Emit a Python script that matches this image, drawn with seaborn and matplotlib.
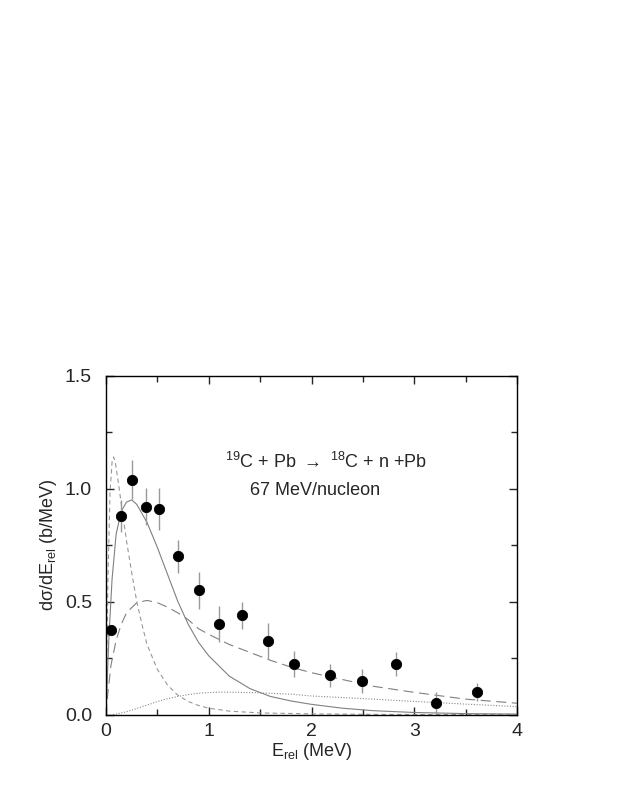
import numpy as np
import pandas as pd
import matplotlib
matplotlib.use('Agg')
import matplotlib.pyplot as plt
import seaborn as sns

# data points
e_data = [0.05, 0.15, 0.254, 0.39, 0.52, 0.70, 0.906, 1.105, 1.326, 1.58, 1.83, 2.18, 2.49, 2.82, 3.21, 3.61]
s_data = [0.375, 0.88, 1.04, 0.92, 0.91, 0.70, 0.55, 0.40, 0.44, 0.325, 0.224, 0.174, 0.149, 0.224, 0.05, 0.098]
s_err = [0.0, 0.07, 0.085, 0.081, 0.092, 0.072, 0.081, 0.079, 0.06, 0.078, 0.058, 0.05, 0.052, 0.052, 0.049, 0.04]

# full calculation (solid)
e_tot = [0, 0.03, 0.06, 0.1, 0.15, 0.2, 0.25, 0.3, 0.4, 0.5, 0.6, 0.7, 0.8, 0.9, 1.0, 1.2, 1.4, 1.6, 1.8, 2.0, 2.3, 2.6, 3.0, 3.5, 4.0]
s_tot = [0, 0.35, 0.60, 0.80, 0.90, 0.94, 0.95, 0.93, 0.85, 0.74, 0.62, 0.50, 0.40, 0.32, 0.26, 0.17, 0.115, 0.08, 0.06, 0.045, 0.028, 0.017, 0.009, 0.004, 0.002]

# short dashed
e_sd = [0, 0.02, 0.04, 0.06, 0.075, 0.09, 0.12, 0.15, 0.2, 0.25, 0.3, 0.35, 0.4, 0.5, 0.6, 0.7, 0.8, 0.9, 1.0, 1.2, 1.5, 2.0, 2.5, 3.0, 4.0]
s_sd = [0, 0.6, 0.98, 1.12, 1.14, 1.12, 1.03, 0.93, 0.77, 0.63, 0.50, 0.40, 0.31, 0.20, 0.13, 0.085, 0.058, 0.04, 0.028, 0.015, 0.007, 0.003, 0.001, 0.0, 0.0]

# long dashed
e_ld = [0, 0.02, 0.05, 0.1, 0.15, 0.2, 0.3, 0.4, 0.5, 0.6, 0.7, 0.8, 0.9, 1.0, 1.2, 1.4, 1.6, 1.8, 2.0, 2.3, 2.6, 3.0, 3.5, 4.0]
s_ld = [0, 0.10, 0.22, 0.33, 0.40, 0.45, 0.495, 0.505, 0.495, 0.475, 0.45, 0.42, 0.38, 0.355, 0.31, 0.275, 0.24, 0.21, 0.185, 0.155, 0.125, 0.098, 0.068, 0.05]

# dotted
e_dot = [0.07, 0.1, 0.2, 0.3, 0.4, 0.5, 0.6, 0.7, 0.8, 0.9, 1.0, 1.1, 1.2, 1.4, 1.6, 1.8, 2.0, 2.3, 2.6, 3.0, 3.5, 4.0]
s_dot = [0, 0.002, 0.012, 0.027, 0.042, 0.057, 0.07, 0.08, 0.088, 0.094, 0.097, 0.099, 0.099, 0.097, 0.094, 0.09, 0.082, 0.075, 0.068, 0.058, 0.046, 0.035]

sns.set_style('ticks')
plt.rcParams['font.family'] = ['Liberation Sans', 'DejaVu Sans']
plt.rcParams['mathtext.default'] = 'regular'
plt.rcParams['font.size'] = 12

fig = plt.figure(figsize=(6.23, 8.06), dpi=100)
ax = fig.add_axes([0.170, 0.1135, 0.660, 0.4205])

sns.lineplot(x=e_tot, y=s_tot, ax=ax, color='#808080', lw=0.8, sort=False)
sns.lineplot(x=e_sd, y=s_sd, ax=ax, color='#999999', lw=0.8, sort=False,
             linestyle=(0, (4, 3)))
sns.lineplot(x=e_ld, y=s_ld, ax=ax, color='#808080', lw=0.8, sort=False,
             linestyle=(0, (9, 5)))
sns.lineplot(x=e_dot, y=s_dot, ax=ax, color='#888888', lw=0.8, sort=False,
             linestyle=(0, (1, 1.5)))

ax.errorbar(e_data, s_data, yerr=s_err, fmt='none', ecolor='#999999', elinewidth=1.0, capsize=0)
sns.scatterplot(x=e_data, y=s_data, ax=ax, color='black', s=55, edgecolor='black', zorder=5)

ax.set_xlim(0, 4)
ax.set_ylim(0, 1.5)
ax.set_xticks([0, 1, 2, 3, 4])
ax.set_xticks([0.5, 1.5, 2.5, 3.5], minor=True)
ax.set_yticks([0, 0.5, 1.0, 1.5])
ax.set_yticklabels(['0.0', '0.5', '1.0', '1.5'])
ax.set_yticks([0.25, 0.75, 1.25], minor=True)
ax.tick_params(which='both', direction='in', top=True, right=True, labelsize=14, width=1)
ax.tick_params(which='major', length=6)
ax.tick_params(which='minor', length=4)
ax.tick_params(axis='y', which='major', pad=10)
ax.tick_params(axis='x', which='major', pad=6)
for sp in ax.spines.values():
    sp.set_linewidth(1.0)
    sp.set_color('black')

ax.set_xlabel('E$_{rel}$ (MeV)', fontsize=13, labelpad=1)
ax.set_ylabel('d\u03c3/dE$_{rel}$ (b/MeV)', fontsize=13, labelpad=4)

ax.text(1.16, 1.12, '$^{19}$C + Pb $\\rightarrow$ $^{18}$C + n +Pb', fontsize=13, va='center')
ax.text(1.40, 0.99, '67 MeV/nucleon', fontsize=13, va='center')

fig.savefig('out.png', dpi=100)
